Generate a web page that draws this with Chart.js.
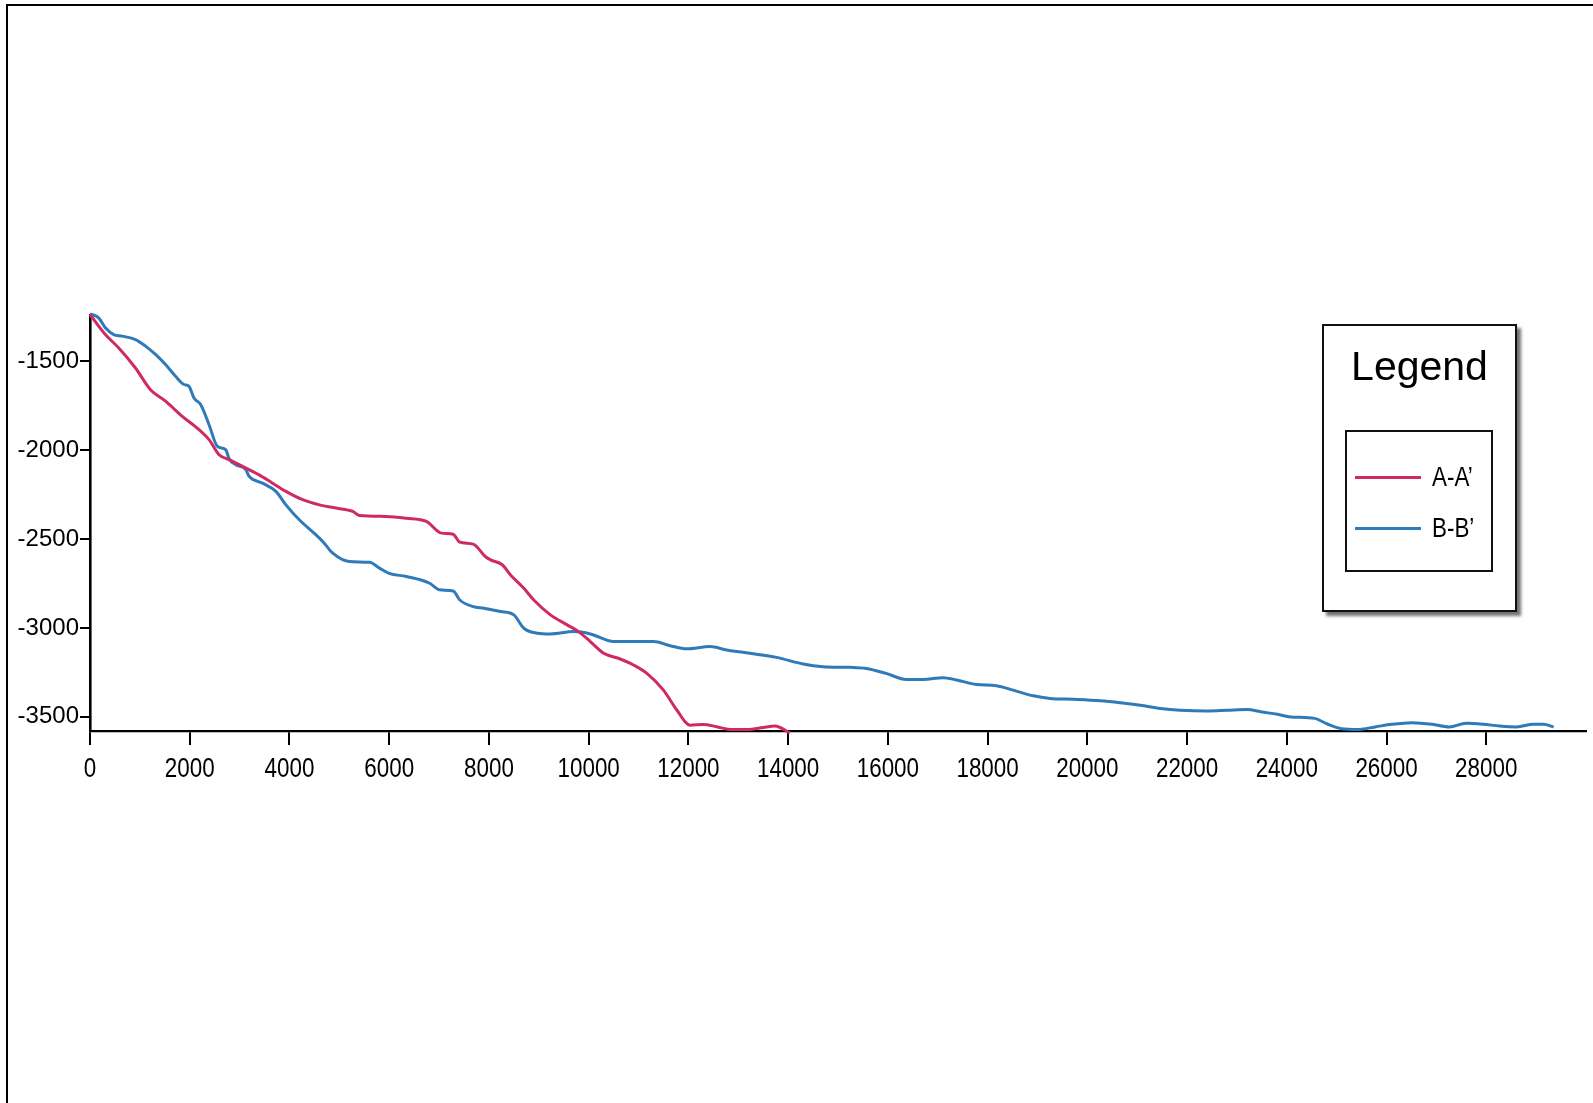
<!DOCTYPE html>
<html lang="en">
<head>
  <meta charset="UTF-8" />
  <title>A-A' / B-B' profiles</title>
  <script src="https://cdn.jsdelivr.net/npm/chart.js"></script>
  <style>
    html, body { margin: 0; padding: 0; background: #fff; }
    #wrap { position: relative; width: 1593px; height: 1103px; overflow: hidden; }
    #frame { position: absolute; left: 6px; top: 4px; right: -4px; bottom: -4px;
             border-left: 2px solid #000; border-top: 2px solid #000; pointer-events: none; }
    #legend { position: absolute; left: 1322px; top: 324px; width: 191px; height: 284px;
              border: 2px solid #111; background: #fff; box-shadow: 4px 4px 3px rgba(0,0,0,0.55);
              font-family: 'Liberation Sans', Arial, sans-serif; color: #000; }
    #legend .title { position: absolute; left: 0; right: 0; top: 20px; text-align: center;
                     font-size: 41px; line-height: 1; }
    #legend .inner { position: absolute; left: 21px; top: 104px; width: 144px; height: 138px;
                     border: 2px solid #111; }
    #legend .item { position: absolute; left: 8px; height: 30px; width: 140px; }
    #legend .item i { position: absolute; left: 0; top: 14px; width: 66px; height: 3px; }
    #legend .item span { position: absolute; left: 77px; top: 0; line-height: 30px; font-size: 28px;
                         transform: scaleX(0.8); transform-origin: left center; white-space: nowrap; }
  </style>
</head>
<body>
  <div id="wrap">
    <canvas id="profile" width="1593" height="1103"></canvas>
    <div id="frame"></div>
    <div id="legend"><div class="title">Legend</div><div class="inner" id="legendItems"></div></div>
  </div>

  <script>
    // distance along profile / elevation
    const aaX = [0, 308, 577, 912, 1213, 1515, 1850, 2185, 2387, 2588,
                 2790, 2990, 3392, 3661, 3929, 4264, 4600, 4935, 5270, 5404,
                 5941, 6343, 6745, 7047, 7282, 7416, 7684, 7933, 8033, 8267,
                 8433, 8700, 8900, 9233, 9567, 9800, 10033, 10300, 10633, 10900,
                 11167, 11500, 11767, 12033, 12300, 12567, 12833, 13233, 13500, 13733,
                 14033];
    const aaY = [-1237, -1350, -1425, -1538, -1660, -1725, -1810, -1885, -1941, -2026,
                 -2054, -2082, -2139, -2186, -2232, -2279, -2308, -2326, -2345, -2368,
                 -2373, -2383, -2401, -2467, -2473, -2518, -2529, -2600, -2617, -2645,
                 -2702, -2777, -2843, -2927, -2983, -3021, -3077, -3143, -3175, -3209,
                 -3256, -3350, -3462, -3547, -3543, -3556, -3571, -3571, -3560, -3552,
                 -3590];

    const bbX = [0, 174, 308, 476, 644, 912, 1113, 1314, 1515, 1716,
                 1884, 1985, 2085, 2219, 2387, 2555, 2722, 2789, 2923, 3124,
                 3192, 3460, 3728, 3929, 4197, 4533, 4667, 4868, 5203, 5605,
                 5806, 5997, 6343, 6812, 7013, 7282, 7416, 7684, 7900, 8233,
                 8500, 8700, 8967, 9233, 9700, 10033, 10500, 10833, 11300, 11633,
                 11967, 12433, 12767, 13233, 13767, 14300, 14700, 15233, 15567, 15966,
                 16369, 16704, 17106, 17375, 17777, 18179, 18514, 18917, 19252, 19721,
                 20258, 20660, 21062, 21465, 21867, 22403, 22806, 23208, 23476, 23811,
                 24081, 24554, 24824, 25095, 25432, 25770, 26108, 26514, 26919, 27257,
                 27595, 27933, 28270, 28608, 28946, 29149, 29352];
    const bbY = [-1233, -1256, -1312, -1350, -1359, -1378, -1415, -1462, -1519, -1585,
                 -1631, -1641, -1707, -1744, -1857, -1979, -1998, -2048, -2082, -2110,
                 -2148, -2186, -2232, -2308, -2392, -2477, -2514, -2580, -2627, -2631,
                 -2664, -2693, -2711, -2749, -2786, -2792, -2843, -2880, -2889, -2908,
                 -2927, -3002, -3030, -3034, -3021, -3034, -3077, -3077, -3077, -3100,
                 -3118, -3105, -3124, -3143, -3166, -3203, -3218, -3222, -3228, -3256,
                 -3290, -3290, -3280, -3293, -3318, -3325, -3350, -3382, -3397, -3402,
                 -3410, -3421, -3435, -3453, -3463, -3467, -3463, -3459, -3472, -3486,
                 -3501, -3509, -3542, -3567, -3571, -3557, -3542, -3533, -3542, -3557,
                 -3537, -3542, -3552, -3557, -3542, -3542, -3557];

    const xTicks = [0, 2000, 4000, 6000, 8000, 10000, 12000, 14000, 16000, 18000, 20000, 22000, 24000, 26000, 28000];
    const yTicks = [-3500, -3000, -2500, -2000, -1500];
    const seriesNames = ['A-A\u2019', 'B-B\u2019'];
    const seriesColors = ['#cf2a62', '#2f7ab9'];

    const toPts = (xs, ys) => xs.map((x, i) => ({ x, y: ys[i] }));
    const FONT = "'Liberation Sans', Arial, sans-serif";

    // x labels in the figure are a tall, narrow face: draw them squeezed horizontally
    const narrowXLabels = {
      id: 'narrowXLabels',
      afterDraw(chart) {
        const s = chart.scales.x, ctx = chart.ctx;
        ctx.save();
        ctx.font = `28px ${FONT}`;
        ctx.fillStyle = '#000';
        ctx.textAlign = 'center';
        ctx.textBaseline = 'alphabetic';
        s.ticks.forEach(t => {
          ctx.save();
          ctx.translate(s.getPixelForValue(t.value), s.top + 46);
          ctx.scale(0.8, 1);
          ctx.fillText(String(t.value), 0, 0);
          ctx.restore();
        });
        ctx.restore();
      }
    };

    const chart = new Chart(document.getElementById('profile'), {
      type: 'line',
      data: {
        datasets: [
          { label: seriesNames[0], data: toPts(aaX, aaY), borderColor: seriesColors[0] },
          { label: seriesNames[1], data: toPts(bbX, bbY), borderColor: seriesColors[1] }
        ]
      },
      options: {
        responsive: false,
        animation: false,
        layout: { padding: { top: 315, right: 7, left: 0, bottom: 0 } },
        elements: {
          line: { borderWidth: 3, cubicInterpolationMode: 'monotone', fill: false },
          point: { radius: 0, hoverRadius: 0 }
        },
        datasets: { line: { clip: false } },
        plugins: { legend: { display: false }, tooltip: { enabled: false } },
        scales: {
          x: {
            type: 'linear', min: 0, max: 30000,
            afterBuildTicks: s => { s.ticks = xTicks.map(v => ({ value: v })); },
            afterFit: s => { s.height = 372; },
            border: { color: '#000', width: 2.2 },
            grid: { drawOnChartArea: false, drawTicks: true, tickLength: 14, color: '#000', lineWidth: 2 },
            ticks: { display: false }
          },
          y: {
            type: 'linear', min: -3580, max: -1240,
            afterBuildTicks: s => { s.ticks = yTicks.map(v => ({ value: v })); },
            afterFit: s => { s.width = 90; },
            border: { color: '#000', width: 2.6 },
            grid: { drawOnChartArea: false, drawTicks: true, tickLength: 10, color: '#000', lineWidth: 2 },
            ticks: { font: { family: FONT, size: 24 }, color: '#000', padding: 1, callback: v => String(v) }
          }
        }
      },
      plugins: [narrowXLabels]
    });

    // legend built from the datasets
    const items = document.getElementById('legendItems');
    chart.data.datasets.forEach((ds, i) => {
      items.insertAdjacentHTML('beforeend',
        `<div class="item" style="top:${30 + i * 51}px"><i style="background:${ds.borderColor}"></i><span>${ds.label}</span></div>`);
    });
  </script>
</body>
</html>
